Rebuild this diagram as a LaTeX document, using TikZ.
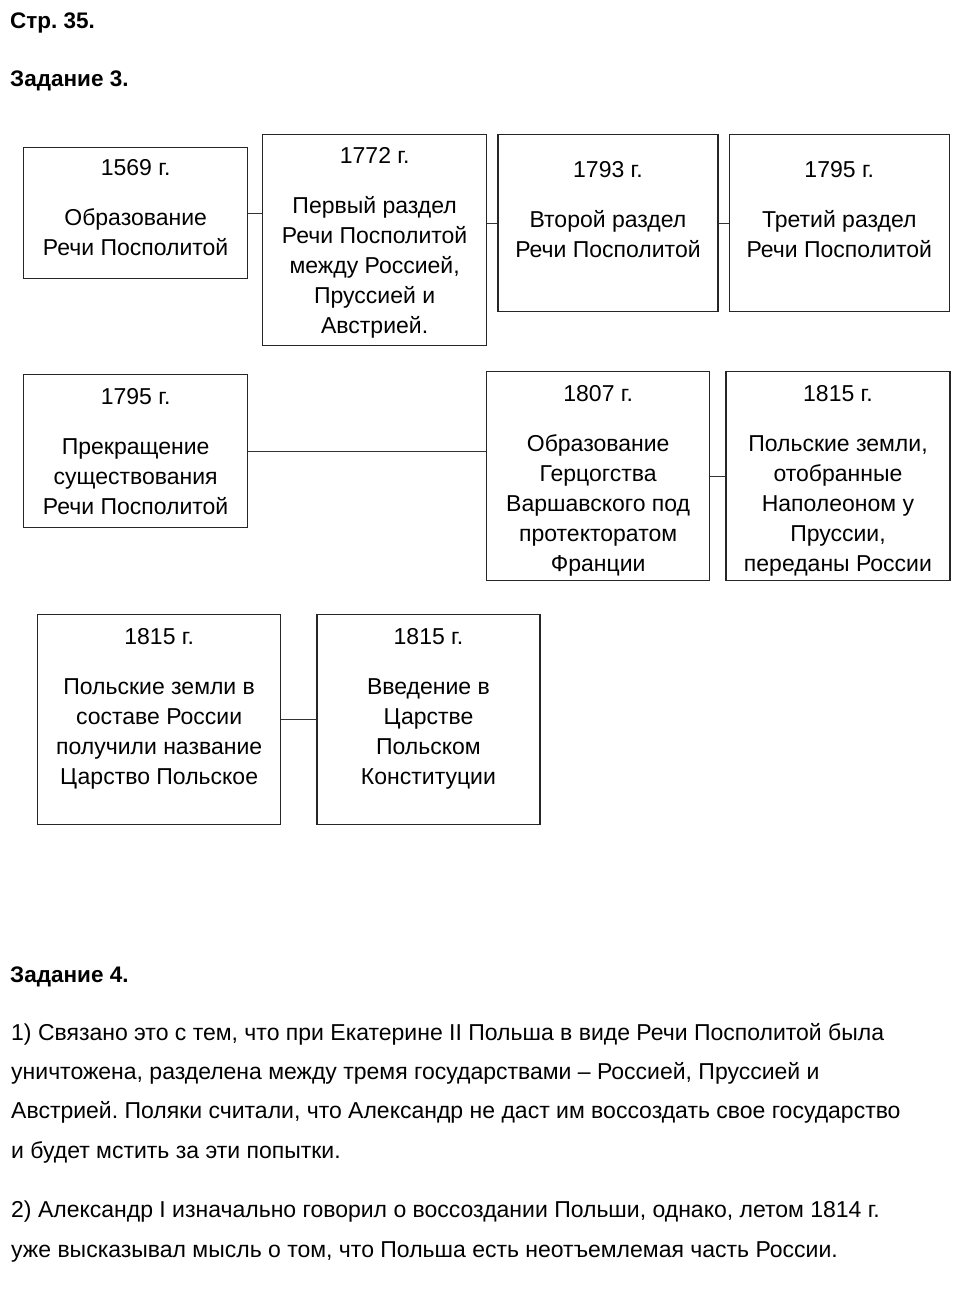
\documentclass[tikz,border=0pt]{standalone}
\usepackage{fontspec}
\setmainfont{Liberation Sans}
\frenchspacing
\usetikzlibrary{positioning}

\begin{document}
\begin{tikzpicture}[x=1pt,y=-1pt,
  box/.style={draw=black!85,line width=1.3pt,anchor=north west,align=center,inner sep=0pt,font=\fontsize{23}{30}\selectfont},
  lnk/.style={draw=black!80,line width=0.8pt},
  head/.style={anchor=base west,inner sep=0pt,font=\fontsize{22.5}{26}\selectfont\bfseries},
  para/.style={anchor=base west,inner sep=0pt,align=left,font=\fontsize{23}{39.3}\selectfont}]
\useasboundingbox (0,0) rectangle (959,1307);
\node[head] (pg) at (10,28) {Стр. 35.};
\node[head] (z3) at (10,86) {Задание 3.};
% first row
\node[box,minimum width=224pt,minimum height=131pt] (b1) at (23,147) {1569 г.\\[20pt]Образование\\Речи Посполитой\\[-18pt]\mbox{}};
\node[box,minimum width=224pt,minimum height=211pt] (b2) at (262,134) {1772 г.\\[20pt]Первый раздел\\Речи Посполитой\\между Россией,\\Пруссией и\\Австрией.\\[-31pt]\mbox{}};
\node[box,minimum width=220pt,minimum height=177pt,right=10pt of b2.north east,anchor=north west] (b3) {1793 г.\\[20pt]Второй раздел\\Речи Посполитой\\[-3.5pt]\mbox{}};
\node[box,minimum width=220pt,minimum height=177pt,right=10pt of b3.north east,anchor=north west] (b4) {1795 г.\\[20pt]Третий раздел\\Речи Посполитой\\[-3.5pt]\mbox{}};
% second row
\node[box,minimum width=224pt,minimum height=153pt] (b5) at (23,374) {1795 г.\\[20pt]Прекращение\\существования\\Речи Посполитой};
\node[box,minimum width=223pt,minimum height=209pt] (b6) at (486,371) {1807 г.\\[20pt]Образование\\Герцогства\\Варшавского под\\протекторатом\\Франции\\[-35pt]\mbox{}};
\node[box,minimum width=224pt,minimum height=209pt,right=15pt of b6.north east,anchor=north west] (b7) {1815 г.\\[20pt]Польские земли,\\отобранные\\Наполеоном у\\Пруссии,\\переданы России\\[-35pt]\mbox{}};
% third row
\node[box,minimum width=243pt,minimum height=210pt] (b8) at (37,614) {1815 г.\\[20pt]Польские земли в\\составе России\\получили название\\Царство Польское\\[-3.5pt]\mbox{}};
\node[box,minimum width=223pt,minimum height=210pt,right=35pt of b8.north east,anchor=north west] (b9) {1815 г.\\[20pt]Введение в\\Царстве\\Польском\\Конституции\\[-3.5pt]\mbox{}};
\draw[lnk] (b1.east) -- (b1.east -| b2.west);
\draw[lnk] (b2.east |- b3.west) -- (b3.west);
\draw[lnk] (b3.east) -- (b4.west);
\draw[lnk] (b5.east) -- (b5.east -| b6.west);
\draw[lnk] (b6.east) -- (b7.west);
\draw[lnk] (b8.east) -- (b9.west);
% task 4
\node[head] (z4) at (10,982) {Задание 4.};
\node[para] (a1) at (11,1158) {1) Связано это с тем, что при Екатерине II Польша в виде Речи Посполитой была\\уничтожена, разделена между тремя государствами – Россией, Пруссией и\\Австрией. Поляки считали, что Александр не даст им воссоздать свое государство\\и будет мстить за эти попытки.};
\node[para] (a2) at (11,1257) {2) Александр I изначально говорил о воссоздании Польши, однако, летом 1814 г.\\уже высказывал мысль о том, что Польша есть неотъемлемая часть России.};
\end{tikzpicture}
\end{document}
